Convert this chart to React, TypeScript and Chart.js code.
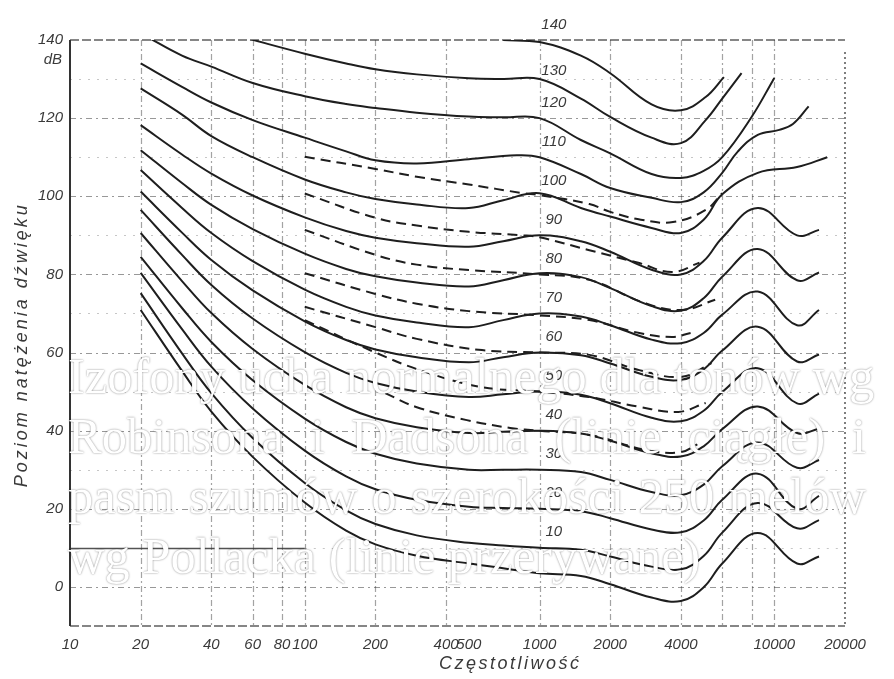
import { useEffect, useRef } from "react";
import { Chart, registerables } from "chart.js";

Chart.register(...registerables);

// Frequency ticks (Hz) and level ticks (dB)
const X_TICKS = [10, 20, 40, 60, 80, 100, 200, 400, 500, 1000, 2000, 4000, 10000, 20000];
const Y_TICKS = [0, 20, 40, 60, 80, 100, 120, 140];
const V_GRID = [20, 40, 60, 80, 100, 200, 400, 1000, 2000, 4000, 6000, 8000, 10000];
const H_GRID = [0, 10, 20, 30, 40, 50, 60, 70, 80, 90, 100, 110, 120, 130];

// Pure-tone equal-loudness contours (solid), levels in dB
const TONE_FREQ = [20, 30, 40, 60, 100, 150, 200, 300, 500, 700, 1000, 1500, 2000, 3000, 4000, 5000, 6000, 8500, 12500, 15500];
const PHON_0 = [70.9, 55.3, 44.9, 33.3, 21.6, 14.4, 10.9, 8, 6, 4.8, 3.5, 2.8, 0.7, -2.7, -3.6, -0.1, 6, 13.8, 6, 7.8];
const PHON_10 = [75.2, 59.8, 49.6, 38.1, 26.6, 19.6, 16.1, 13.2, 11.3, 10.6, 10, 9.5, 7.8, 5.2, 4.5, 7.9, 13.9, 21.5, 15, 17.1];
const PHON_20 = [80.4, 66, 56.4, 45.7, 34.9, 28.3, 25, 22.3, 20.5, 20.2, 20, 19.4, 17.6, 14.7, 14, 17, 22.3, 29, 20, 23.3];
const PHON_30 = [84.5, 71.4, 62.7, 52.9, 43.1, 37.1, 34.1, 31.6, 30, 30, 30, 29.4, 27.4, 24.3, 23.5, 26.2, 30.9, 37, 30.5, 32.5];
const PHON_40 = [90.6, 78.3, 70.1, 60.9, 51.7, 46, 43.2, 40.9, 39.4, 39.7, 40, 39.3, 37.4, 34.2, 33.4, 36, 40.4, 46.2, 39.4, 40.5];
const PHON_50 = [96.5, 85, 77.3, 68.7, 60.1, 54.8, 52.2, 50, 48.6, 49.3, 50, 49.2, 47, 43.3, 42.4, 45.1, 49.9, 56, 47, 49.5];
const PHON_60 = [101.2, 90.7, 83.7, 75.9, 68, 63.2, 60.8, 58.8, 57.5, 58.8, 60, 59.3, 57.2, 53.8, 53, 55.7, 60.5, 66.6, 57.7, 59.5];
const PHON_70 = [106.7, 97, 90.6, 83.4, 76.1, 71.7, 69.5, 67.7, 66.5, 68.3, 70, 69.2, 67, 63.3, 62.4, 65, 69.7, 75.6, 67, 70.9];
const PHON_80 = [111.8, 103.4, 97.8, 91.6, 85.3, 81.4, 79.5, 77.9, 76.9, 78.5, 80.3, 79.3, 76.5, 71.9, 70.7, 73.9, 79.4, 86.5, 78.5, 80.5];
const PHON_90 = [118.2, 110.7, 105.8, 100.2, 94.6, 91.1, 89.4, 88, 87.1, 88.5, 90, 88.5, 85.8, 81.2, 80, 83.4, 89.4, 97, 90, 91.4];

const FREQ_100 = [20, 30, 40, 60, 100, 150, 200, 300, 500, 700, 1000, 1500, 2000, 3000, 4000, 5000, 6000, 8500, 12500, 16800];
const PHON_100 = [127.6, 120.9, 115.4, 110, 104.3, 101, 99.3, 97.9, 97, 99, 100.8, 97, 94.8, 91.9, 90.6, 94, 100.5, 106, 107.5, 110];
const FREQ_110 = [20, 30, 40, 60, 100, 150, 200, 300, 500, 800, 1000, 1500, 2000, 3000, 4000, 5000, 6000, 7000, 8500, 10500, 12000, 14000];
const PHON_110 = [134, 128, 124, 119.5, 115, 111.5, 109.2, 108.4, 109.5, 110.5, 110, 105.7, 102.1, 99.6, 98.5, 101, 106, 111.5, 115.7, 117, 118.5, 123];
const FREQ_120 = [21, 30, 40, 60, 100, 150, 200, 300, 500, 700, 1000, 1500, 2000, 3000, 4000, 5000, 6000, 8000, 10000];
const PHON_120 = [141, 136, 133.2, 129, 125.6, 123.6, 122.6, 121.4, 120.4, 120.2, 120, 114.4, 111, 105.7, 104.7, 106.5, 110, 120.3, 130.3];
const FREQ_130 = [57, 100, 150, 200, 300, 500, 700, 1000, 1500, 2000, 3000, 4000, 5100, 6000, 7250];
const PHON_130 = [140.4, 136.5, 134, 132.5, 131.2, 130.2, 130, 130, 125, 120.3, 115, 113.6, 119.5, 125, 131.5];
const FREQ_140 = [700, 1000, 1500, 2000, 3000, 4000, 5100, 6100];
const PHON_140 = [140, 139.5, 136, 131.5, 123.5, 122, 125.4, 130.5];

// Noise-band contours (dashed)
const NOISE_100_F = [100, 200, 300, 500, 850, 1000, 1630, 2000, 2700, 3700, 5100, 6000];
const NOISE_100 = [110.1, 107, 105, 103, 100.8, 100.3, 98, 96, 94, 93.4, 96.5, 100.8];
const NOISE_90_F = [100, 200, 300, 500, 850, 1000, 1630, 2660, 3670, 4800];
const NOISE_90 = [100.7, 94.5, 92.5, 90.9, 90, 89.5, 86.2, 82.9, 80.6, 83];
const NOISE_80_F = [100, 200, 300, 500, 1000, 1630, 2800, 4050, 5600];
const NOISE_80 = [91.4, 85, 82.5, 81.1, 80, 78.6, 72.7, 70.9, 73.5];
const NOISE_70_F = [100, 200, 300, 500, 1000, 1630, 2660, 3670, 4400];
const NOISE_70 = [80.3, 75, 72.5, 70.6, 69.5, 68.3, 65, 64, 65];
const NOISE_60_F = [100, 200, 300, 550, 1000, 1630, 2660, 4050, 5400];
const NOISE_60 = [71.7, 66.5, 63.5, 60.7, 60, 59.4, 55.5, 53.8, 57.3];
const NOISE_50_F = [100, 200, 310, 560, 1000, 1630, 2660, 3900, 5100];
const NOISE_50 = [68.3, 60, 55.5, 51.2, 50, 48.6, 46.1, 44.8, 47.1];
const NOISE_40_F = [220, 300, 490, 750, 1000, 1630, 2870, 4000, 4700];
const NOISE_40 = [49.6, 46, 42.7, 40.7, 40, 38.9, 35, 34.5, 36.5];

const CONTOUR_LABELS = [10, 20, 30, 40, 50, 60, 70, 80, 90, 100, 110, 120, 130, 140];
const LABEL_FREQ = 1150;

const CAPTION = [
  "Izofony ucha normalnego dla tonów wg",
  "Robinsona i Dadsona (linie ciągłe) i",
  "pasm szumów o szerokości 250 melów",
  "wg Pollacka (linie przerywane)",
];

const INK = "#1e1e1e";
const TEXT = "#3a3a3a";
const SANS = "'Liberation Sans', Arial, sans-serif";

const pts = (freqs: number[], levels: number[]) => freqs.map((f, i) => ({ x: f, y: levels[i] }));

const curve = (freqs: number[], levels: number[], dashed = false) => ({
  data: pts(freqs, levels),
  borderColor: INK,
  borderWidth: 2,
  borderDash: dashed ? [10, 6] : [],
  pointRadius: 0,
  fill: false,
  tension: 0.4,
});

const scanGrid = {
  id: "scanGrid",
  beforeDatasetsDraw(chart: any) {
    const { ctx, chartArea: a, scales } = chart;
    const x = scales.x;
    const y = scales.y;
    ctx.save();
    ctx.lineWidth = 1.2;
    // horizontal dash-dot rules
    for (const v of H_GRID) {
      const py = Math.round(y.getPixelForValue(v)) + 0.5;
      const major = v % 20 === 0;
      ctx.strokeStyle = major ? "rgba(50,50,50,0.5)" : "rgba(50,50,50,0.28)";
      ctx.setLineDash(major ? [6, 4, 2, 4] : [2, 7]);
      let startX = a.left;
      if (v === 10) {
        const sx = x.getPixelForValue(100);
        ctx.save();
        ctx.setLineDash([]);
        ctx.strokeStyle = "rgba(40,40,40,0.8)";
        ctx.lineWidth = 1.6;
        ctx.beginPath();
        ctx.moveTo(a.left, py);
        ctx.lineTo(sx, py);
        ctx.stroke();
        ctx.restore();
        startX = sx;
      }
      ctx.beginPath();
      ctx.moveTo(startX, py);
      ctx.lineTo(a.right, py);
      ctx.stroke();
    }
    // vertical dash-dot rules
    ctx.strokeStyle = "rgba(50,50,50,0.45)";
    ctx.setLineDash([6, 3, 2, 3]);
    for (const f of V_GRID) {
      const px = Math.round(x.getPixelForValue(f)) + 0.5;
      ctx.beginPath();
      ctx.moveTo(px, a.top);
      ctx.lineTo(px, a.bottom);
      ctx.stroke();
    }
    // frame
    ctx.strokeStyle = "rgba(40,40,40,0.75)";
    ctx.lineWidth = 1.6;
    ctx.setLineDash([9, 3]);
    ctx.beginPath();
    ctx.moveTo(a.left, a.top);
    ctx.lineTo(a.right, a.top);
    ctx.moveTo(a.left, a.bottom);
    ctx.lineTo(a.right, a.bottom);
    ctx.stroke();
    ctx.setLineDash([2, 3]);
    ctx.beginPath();
    ctx.moveTo(a.right, a.top + 12);
    ctx.lineTo(a.right, a.bottom);
    ctx.stroke();
    ctx.setLineDash([]);
    ctx.strokeStyle = "#333";
    ctx.lineWidth = 2;
    ctx.beginPath();
    ctx.moveTo(a.left, a.top);
    ctx.lineTo(a.left, a.bottom);
    ctx.stroke();
    ctx.restore();
  },
  afterDraw(chart: any) {
    const { ctx, chartArea: a, scales } = chart;
    const x = scales.x;
    const y = scales.y;
    ctx.save();
    ctx.fillStyle = TEXT;
    ctx.font = `italic 15px ${SANS}`;
    ctx.textAlign = "center";
    ctx.textBaseline = "middle";
    const lx = x.getPixelForValue(LABEL_FREQ);
    for (const level of CONTOUR_LABELS) {
      const lift = level === 130 ? 2 : 4;
      ctx.fillText(String(level), lx, y.getPixelForValue(level + lift));
    }
    // unit under the top tick
    ctx.textAlign = "right";
    ctx.fillText("dB", a.left - 8, y.getPixelForValue(140) + 20);
    // axis titles
    ctx.font = `italic 18px ${SANS}`;
    (ctx as any).letterSpacing = "2.5px";
    ctx.textAlign = "center";
    ctx.fillText("Częstotliwość", x.getPixelForValue(750), a.bottom + 38);
    ctx.translate(a.left - 48, y.getPixelForValue(62));
    ctx.rotate(-Math.PI / 2);
    (ctx as any).letterSpacing = "3px";
    ctx.fillText("Poziom natężenia dźwięku", 0, 0);
    ctx.restore();
  },
};

export default function App() {
  const canvasRef = useRef<HTMLCanvasElement | null>(null);

  useEffect(() => {
    if (!canvasRef.current) return;
    const datasets = [
      curve(TONE_FREQ, PHON_0),
      curve(TONE_FREQ, PHON_10),
      curve(TONE_FREQ, PHON_20),
      curve(TONE_FREQ, PHON_30),
      curve(TONE_FREQ, PHON_40),
      curve(TONE_FREQ, PHON_50),
      curve(TONE_FREQ, PHON_60),
      curve(TONE_FREQ, PHON_70),
      curve(TONE_FREQ, PHON_80),
      curve(TONE_FREQ, PHON_90),
      curve(FREQ_100, PHON_100),
      curve(FREQ_110, PHON_110),
      curve(FREQ_120, PHON_120),
      curve(FREQ_130, PHON_130),
      curve(FREQ_140, PHON_140),
      curve(NOISE_100_F, NOISE_100, true),
      curve(NOISE_90_F, NOISE_90, true),
      curve(NOISE_80_F, NOISE_80, true),
      curve(NOISE_70_F, NOISE_70, true),
      curve(NOISE_60_F, NOISE_60, true),
      curve(NOISE_50_F, NOISE_50, true),
      curve(NOISE_40_F, NOISE_40, true),
    ];
    const tickFont = { family: SANS, size: 15, style: "italic" as const };
    const chart = new Chart(canvasRef.current, {
      type: "line",
      data: { datasets },
      options: {
        animation: false,
        responsive: false,
        events: [],
        layout: { padding: { top: 40, right: 49, left: 0, bottom: 0 } },
        plugins: { legend: { display: false }, tooltip: { enabled: false } },
        scales: {
          x: {
            type: "logarithmic",
            min: 10,
            max: 20000,
            grid: { display: false, drawTicks: false },
            border: { display: false },
            afterBuildTicks: (s: any) => {
              s.ticks = X_TICKS.map((v) => ({ value: v }));
            },
            afterFit: (s: any) => {
              s.height = 53;
            },
            ticks: {
              autoSkip: false,
              maxRotation: 0,
              padding: 10,
              color: TEXT,
              font: tickFont,
              callback: (v: any) => String(v),
            },
          },
          y: {
            type: "linear",
            min: -10,
            max: 140,
            grid: { display: false, drawTicks: false },
            border: { display: false },
            afterBuildTicks: (s: any) => {
              s.ticks = Y_TICKS.map((v) => ({ value: v }));
            },
            afterFit: (s: any) => {
              s.width = 70;
            },
            ticks: {
              padding: 7,
              color: TEXT,
              font: tickFont,
              callback: (v: any) => String(v),
            },
          },
        },
      },
      plugins: [scanGrid],
    });
    return () => chart.destroy();
  }, []);

  return (
    <div
      style={{
        position: "fixed",
        left: 0,
        top: 0,
        width: 894,
        height: 679,
        background: "#fff",
        overflow: "hidden",
      }}
    >
      <canvas ref={canvasRef} width={894} height={679} style={{ display: "block" }} />
      <div
        style={{
          position: "absolute",
          left: 68,
          top: 346,
          fontFamily: "'Liberation Serif', 'Times New Roman', serif",
          fontSize: 50.5,
          lineHeight: "60px",
          color: "#fff",
          textShadow: "0 0 2px rgba(0,0,0,0.5)",
          pointerEvents: "none",
        }}
      >
        {CAPTION.map((line, i) => (
          <div
            key={line}
            style={
              i > 0 && i < CAPTION.length - 1
                ? { width: 798, textAlign: "justify", textAlignLast: "justify" }
                : { whiteSpace: "nowrap" }
            }
          >
            {line}
          </div>
        ))}
      </div>
    </div>
  );
}
